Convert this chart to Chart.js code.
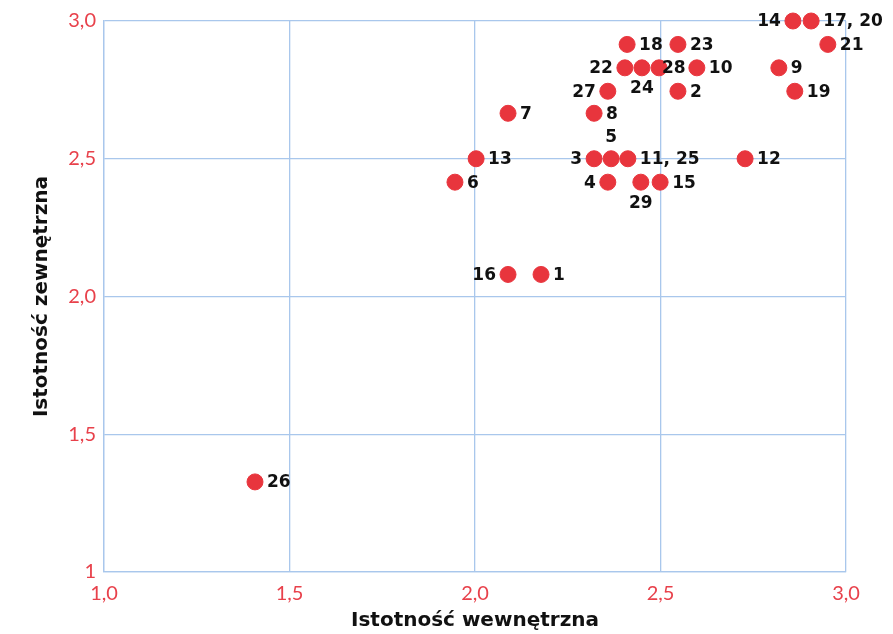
<!DOCTYPE html>
<html>
<head>
<meta charset="utf-8">
<script src="https://cdn.jsdelivr.net/npm/chart.js@4"></script>
<style>
  html, body { margin: 0; padding: 0; background: #fff; }
  #wrap { width: 893px; height: 634px; }
</style>
</head>
<body>
<div id="wrap"><canvas id="myChart"></canvas></div>
<script>
// point names, x = wewnetrzna, y = zewnetrzna
var names = ['1', '2', '3', '4', '5', '6', '7', '8', '9', '10', '11, 25', '12', '13', '14',
  '15', '16', '17, 20', '18', '19', '21', '22', '23', '24', '26', '27', '28', '29']
var wewn = [2.178, 2.547, 2.321, 2.358, 2.367, 1.946, 2.089, 2.321, 2.819, 2.598, 2.412, 2.728, 2.003, 2.857,
  2.499, 2.089, 2.906, 2.410, 2.862, 2.951, 2.404, 2.547, 2.450, 1.407, 2.358, 2.496, 2.447]
var zewn = [2.080, 2.745, 2.500, 2.415, 2.500, 2.415, 2.665, 2.665, 2.830, 2.830, 2.500, 2.500, 2.500, 3.000,
  2.415, 2.080, 3.000, 2.915, 2.745, 2.915, 2.830, 2.915, 2.830, 1.327, 2.745, 2.830, 2.415]
// where the name goes next to its dot
var side = ['r', 'r', 'l', 'l', 't', 'r', 'r', 'r', 'r', 'r', 'r', 'r', 'r', 'l',
  'r', 'l', 'r', 'r', 'r', 'r', 'l', 'r', 'b', 'r', 'l', 'rt', 'b']

var xTicks = ['1,0', '1,5', '2,0', '2,5', '3,0']
var yTicks = ['1', '1,5', '2,0', '2,5', '3,0']

var points = []
for (var i = 0; i < names.length; i++) {
  points.push({x: wewn[i], y: zewn[i]})
}

var red = '#e8353d'
var tickRed = '#e8414b'
var gridCol = '#a9c7ec'

var nameLabels = {
  id: 'nameLabels',
  afterDatasetsDraw: function(chart) {
    var c = chart.ctx
    var meta = chart.getDatasetMeta(0)
    c.save()
    c.font = 'bold 17px "DejaVu Sans"'
    c.fillStyle = '#111'
    meta.data.forEach(function(el, i) {
      var s = side[i]
      var x = el.x, y = el.y
      if (s == 'r') { c.textAlign = 'left'; c.textBaseline = 'middle'; c.fillText(names[i], x + 12, y + 1) }
      else if (s == 'rt') { c.textAlign = 'left'; c.textBaseline = 'middle'; c.fillText(names[i], x + 3, y + 1) }
      else if (s == 'l') { c.textAlign = 'right'; c.textBaseline = 'middle'; c.fillText(names[i], x - 12, y + 1) }
      else if (s == 't') { c.textAlign = 'center'; c.textBaseline = 'middle'; c.fillText(names[i], x, y - 21) }
      else { c.textAlign = 'center'; c.textBaseline = 'middle'; c.fillText(names[i], x, y + 21) }
    })
    c.restore()
  }
}

ctx = document.getElementById('myChart')

chart = new Chart(ctx, {
  type: 'scatter',
  data: {
    datasets: [{
      data: points,
      backgroundColor: red,
      borderColor: red,
      pointRadius: 8,
      pointHoverRadius: 8,
      clip: false
    }]
  },
  options: {
    responsive: true,
    maintainAspectRatio: false,
    animation: false,
    layout: { padding: { left: 0, top: 21, right: 47, bottom: 0 } },
    plugins: { legend: { display: false }, tooltip: { enabled: false } },
    scales: {
      x: {
        min: 1, max: 3,
        afterFit: function(s) { s.height = 62 },
        afterBuildTicks: function(s) { s.ticks = [1, 1.5, 2, 2.5, 3].map(function(v) { return {value: v} }) },
        ticks: {
          callback: function(v, i) { return xTicks[i] },
          color: tickRed, padding: 10, maxRotation: 0,
          font: { family: 'Lato', size: 20, weight: 'normal' }
        },
        grid: { color: gridCol, drawTicks: false, lineWidth: 1.3 },
        border: { color: gridCol, width: 1.3 },
        title: {
          display: true, text: 'Istotność wewnętrzna', color: '#111',
          font: { family: 'DejaVu Sans', size: 20, weight: 'bold', lineHeight: 1.2 },
          padding: { top: 0, bottom: 1 }
        }
      },
      y: {
        min: 1, max: 3,
        afterFit: function(s) { s.width = 104 },
        afterBuildTicks: function(s) { s.ticks = [1, 1.5, 2, 2.5, 3].map(function(v) { return {value: v} }) },
        ticks: {
          callback: function(v, i) { return yTicks[i] },
          color: tickRed, padding: 8,
          font: { family: 'Lato', size: 20, weight: 'normal' }
        },
        grid: { color: gridCol, drawTicks: false, lineWidth: 1.3 },
        border: { color: gridCol, width: 1.3 },
        title: {
          display: true, text: 'Istotność zewnętrzna', color: '#111',
          font: { family: 'DejaVu Sans', size: 20, weight: 'bold', lineHeight: 1.2 },
          padding: { top: 30, bottom: 0 }
        }
      }
    }
  },
  plugins: [nameLabels]
})
</script>
</body>
</html>
